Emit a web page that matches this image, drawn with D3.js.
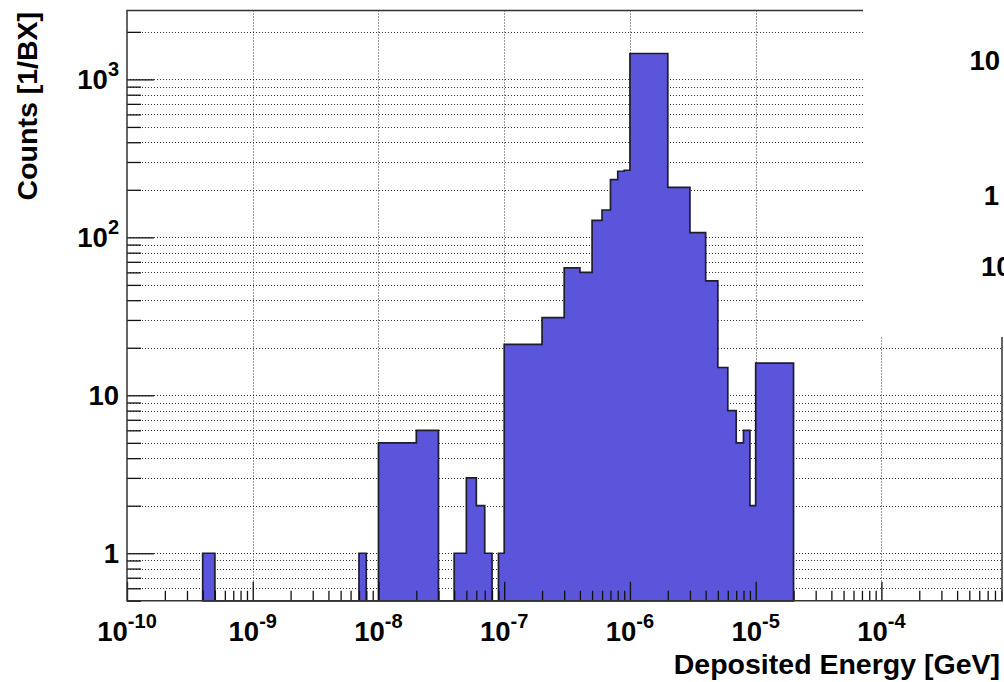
<!DOCTYPE html>
<html><head><meta charset="utf-8">
<script src="https://cdn.jsdelivr.net/npm/d3@7"></script>
<style>
body{margin:0;background:#fff}
svg{display:block}
text{font-family:"Liberation Sans",Arial,Helvetica,sans-serif;font-weight:bold;fill:#000}
</style>
</head><body>
<svg id="c" width="1004" height="682"></svg>
<script>
// ---- data ----
const binLow  = [4e-10,7e-9,1e-8,2e-8,3e-8,4e-8,5e-8,6e-8,7e-8,8e-8,9e-8,1e-7,2e-7,3e-7,4e-7,5e-7,6e-7,7e-7,8e-7,9e-7,1e-6,2e-6,3e-6,4e-6,5e-6,6e-6,7e-6,8e-6,9e-6,1e-5];
const binHigh = [5e-10,8e-9,2e-8,3e-8,4e-8,5e-8,6e-8,7e-8,8e-8,9e-8,1e-7,2e-7,3e-7,4e-7,5e-7,6e-7,7e-7,8e-7,9e-7,1e-6,2e-6,3e-6,4e-6,5e-6,6e-6,7e-6,8e-6,9e-6,1e-5,2e-5];
const counts  = [1,1,5,6,0,1,3,2,1,0,1,21,31,64,60,128,149,232,262,266,1459,207,107,53,15,8,5,6,2,16];
const xDomain = [1e-10, 9.1e-4];
const yDomain = [0.5, 2730];
const yLabelValues = [1, 10, 100, 1000];
const yLabelText   = [["1",""],["10",""],["10","2"],["10","3"]];
const xLabelValues = [1e-10,1e-9,1e-8,1e-7,1e-6,1e-5,1e-4];
const xLabelText   = [["10","-10"],["10","-9"],["10","-8"],["10","-7"],["10","-6"],["10","-5"],["10","-4"]];
const xTitle = "Deposited Energy [GeV]";
const yTitle = "Counts [1/BX]";
const sideLabels = ["10","1","10"];

// ---- layout ----
const L = 127, R = 1002, T = 10.5, B = 600.8;
const svg = d3.select("#c");
const x = d3.scaleLog().domain(xDomain).range([L, R]);
const y = d3.scaleLog().domain(yDomain).range([B, T]);
const isMajor = v => Math.abs(Math.log10(v) - Math.round(Math.log10(v))) < 1e-6;

const xTicks = x.ticks();
const yTicks = y.ticks();
const xMajor = xTicks.filter(isMajor);
const xMinor = xTicks.filter(v => !isMajor(v));
const yMajor = yTicks.filter(isMajor);
const yMinor = yTicks.filter(v => !isMajor(v));

// ---- grid ----
const grid = svg.append("g").attr("stroke", "#333").attr("stroke-width", 1).attr("stroke-dasharray", "1,2");
grid.selectAll(".gx").data(xMajor.filter(v => x(v) > L + 2)).join("line")
  .attr("x1", d => Math.round(x(d)) + 0.5).attr("x2", d => Math.round(x(d)) + 0.5)
  .attr("y1", T).attr("y2", B);
grid.selectAll(".gy").data(yTicks.filter(v => y(v) < B - 2)).join("line")
  .attr("x1", L).attr("x2", R)
  .attr("y1", d => Math.round(y(d)) + 0.5).attr("y2", d => Math.round(y(d)) + 0.5);

// ---- histogram ----
const pts = [];
const yb = B;
for (let i = 0; i < counts.length; i++) {
  const yy = counts[i] > 0 ? y(counts[i]) : yb;
  if (i === 0 || binLow[i] !== binHigh[i - 1]) pts.push([x(binLow[i]), yb]);
  pts.push([x(binLow[i]), yy]);
  pts.push([x(binHigh[i]), yy]);
  if (i === counts.length - 1 || binLow[i + 1] !== binHigh[i]) pts.push([x(binHigh[i]), yb]);
}
const line = d3.line();
svg.append("path").attr("d", line(pts) + "Z")
  .attr("fill", "#5a55da").attr("stroke", "#1e1e2e").attr("stroke-width", 1.7)
  .attr("stroke-linejoin", "miter");

// ---- axes ticks (drawn with d3 axes) ----
const ax = svg.append("g").attr("transform", `translate(0,${B})`);
ax.call(d3.axisBottom(x).tickValues(xMajor).tickSize(-19).tickFormat(""));
ax.append("g").call(d3.axisBottom(x).tickValues(xMinor).tickSize(-10).tickFormat(""));
const ay = svg.append("g").attr("transform", `translate(${L},0)`);
ay.call(d3.axisLeft(y).tickValues(yMajor).tickSize(-27).tickFormat(""));
ay.append("g").call(d3.axisLeft(y).tickValues(yMinor).tickSize(-14).tickFormat(""));
svg.selectAll(".domain").remove();
svg.selectAll(".tick line").attr("stroke", "#111").attr("stroke-width", 1.3);

// ---- frame ----
svg.append("path")
  .attr("d", `M${L},${T}H${R}V${B}H${L}Z`)
  .attr("fill", "none").attr("stroke", "#333").attr("stroke-width", 1.5);

// ---- tick labels ----
const fs = 27.5;
const fsSup = 20;
xLabelValues.forEach((v, i) => {
  const t = svg.append("text").attr("x", x(v)).attr("y", 641)
    .attr("text-anchor", "middle").style("font-size", fs + "px");
  t.append("tspan").text(xLabelText[i][0]);
  t.append("tspan").attr("dy", -13).style("font-size", fsSup + "px").text(xLabelText[i][1]);
});
yLabelValues.forEach((v, i) => {
  const t = svg.append("text").attr("x", 119).attr("y", y(v) + 10)
    .attr("text-anchor", "end").style("font-size", fs + "px");
  t.append("tspan").text(yLabelText[i][0]);
  if (yLabelText[i][1]) t.append("tspan").attr("dy", -13).style("font-size", fsSup + "px").text(yLabelText[i][1]);
});

// ---- titles ----
svg.append("text").attr("x", 1000).attr("y", 674).attr("text-anchor", "end")
  .style("font-size", "28.5px").text(xTitle);
svg.append("text").attr("transform", "translate(37,12) rotate(-90)").attr("text-anchor", "end")
  .style("font-size", "28.5px").text(yTitle);

// ---- overlapping pad (upper right) ----
svg.append("rect").attr("x", 863).attr("y", 0).attr("width", 141).attr("height", 337).attr("fill", "#fff");
svg.append("text").attr("x", 1000).attr("y", 70).attr("text-anchor", "end").style("font-size", fs + "px").text(sideLabels[0]);
svg.append("text").attr("x", 999).attr("y", 205).attr("text-anchor", "end").style("font-size", fs + "px").text(sideLabels[1]);
svg.append("text").attr("x", 981).attr("y", 276).attr("text-anchor", "start").style("font-size", fs + "px").text(sideLabels[2]);
</script>
</body></html>
